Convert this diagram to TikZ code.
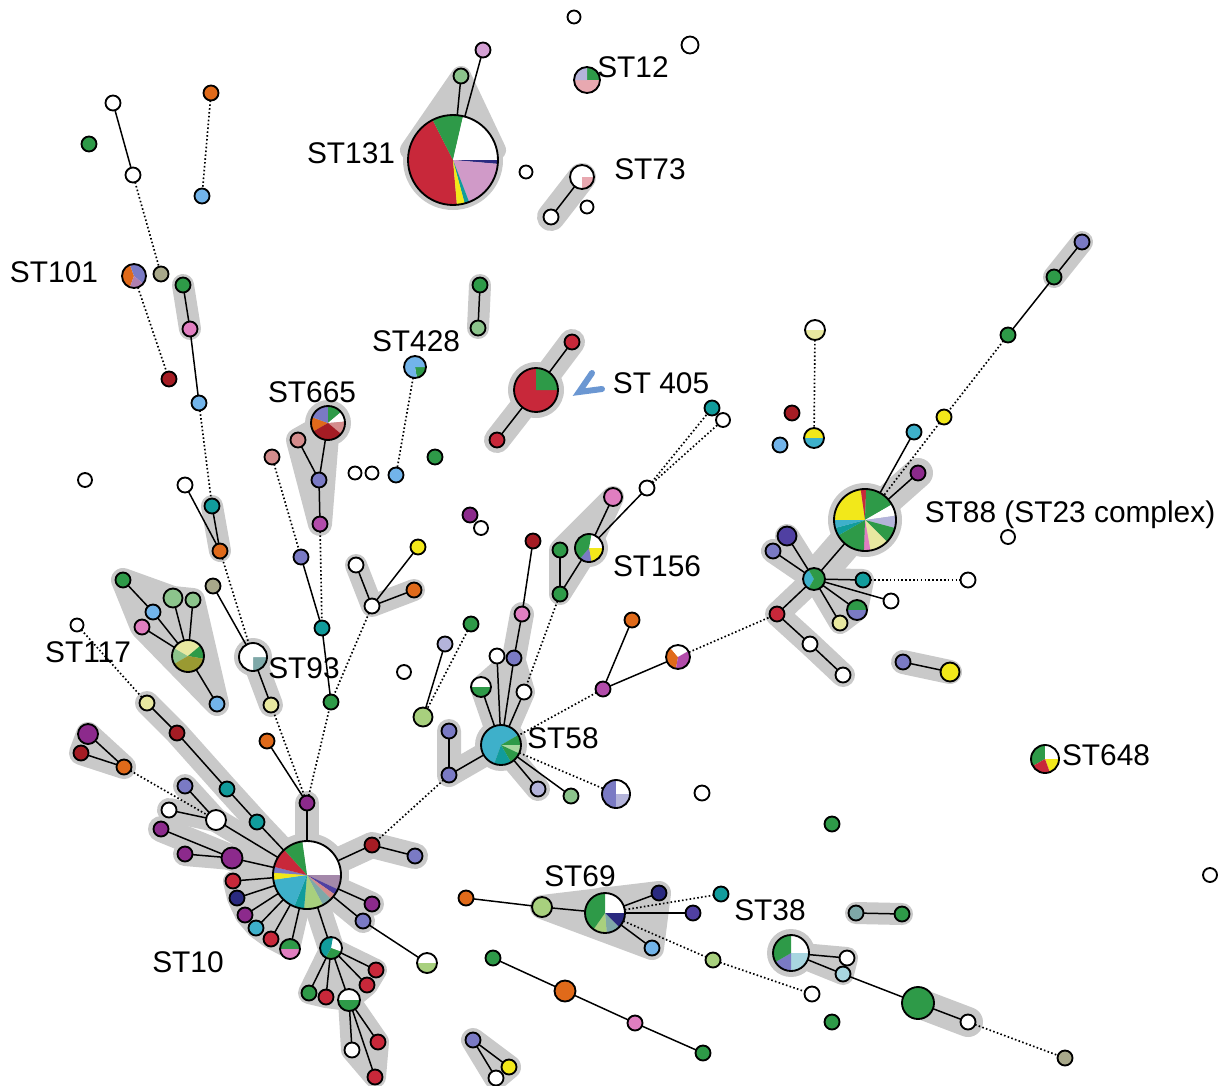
\documentclass[tikz,border=0pt]{standalone}
\usepackage{fontspec}
\setmainfont{Liberation Sans}
\pgfdeclarelayer{bg}
\pgfsetlayers{bg,main}
\definecolor{cRed}{HTML}{C8283A}
\definecolor{cGrn}{HTML}{2E9A48}
\definecolor{cNavy}{HTML}{2A2A80}
\definecolor{cMauve}{HTML}{D09AC8}
\definecolor{cTeal}{HTML}{119C9C}
\definecolor{cYel}{HTML}{F2E81A}
\definecolor{cLav}{HTML}{7A7AC4}
\definecolor{cLBlue}{HTML}{72B4EA}
\definecolor{cOrg}{HTML}{E06A1A}
\definecolor{cDRed}{HTML}{A51C24}
\definecolor{cPur}{HTML}{8C2A8C}
\definecolor{cMag}{HTML}{B24CAA}
\definecolor{cPink}{HTML}{E07EC0}
\definecolor{cLGrn}{HTML}{A8D07E}
\definecolor{cMint}{HTML}{8CC48C}
\definecolor{cLYel}{HTML}{E8E8A0}
\definecolor{cOlive}{HTML}{9A9A32}
\definecolor{cGOl}{HTML}{A8A88A}
\definecolor{cRose}{HTML}{D48C8C}
\definecolor{cTB}{HTML}{3EB0CA}
\definecolor{cGT}{HTML}{7EA8A8}
\definecolor{cLtB}{HTML}{A8D6E0}
\definecolor{cInd}{HTML}{5040A2}
\definecolor{cPinkL}{HTML}{E8A8B0}
\definecolor{cLil}{HTML}{D4A0D4}
\definecolor{cMv2}{HTML}{A488AA}
\definecolor{cLav2}{HTML}{B4B4DA}
\definecolor{cBMauve}{HTML}{B080B0}
\definecolor{cPale}{HTML}{A8D8A0}
\definecolor{haloc}{HTML}{C9C9C9}
\definecolor{cChev}{HTML}{6B97D2}
\newcommand\sn[4]{\node[nd, fill=#4, minimum size=#3*0.02cm] (#1) at (#2) {};}
\newcommand\pn[4]{%
  \foreach \pa/\pb/\pc in {#4}{\fill[fill=\pc] (#2) -- ++(\pa:#3) arc[start angle=\pa, end angle=\pb, radius=#3] -- cycle;}%
  \node[nd, minimum size=#3*0.04cm] (#1) at (#2) {};}
\newcommand\es[2]{\draw[ln] (#1) -- (#2);}
\newcommand\ed[2]{\draw[dl] (#1) -- (#2);}
\begin{document}
\begin{tikzpicture}[x=0.02cm,y=-0.02cm,
  nd/.style={circle, draw=black, line width=1.05pt, inner sep=0pt, outer sep=0pt},
  ln/.style={draw=black, line width=0.85pt},
  dl/.style={draw=black, line width=0.95pt, dash pattern=on 0.9pt off 1.3pt},
  halo/.style={draw=haloc, line width=#1*0.02cm, line cap=round, line join=round},
  lab/.style={font=\fontsize{17}{20}\selectfont, inner sep=0pt, text=black},
  chev/.style={draw=cChev, line width=0.12cm, line cap=round, line join=miter}]
\useasboundingbox (0,0) rectangle (1229,1085);

% ---------- top ----------
\sn{a1}{574,17}{13}{white}
\sn{a2}{690,45}{17}{white}
\sn{lil}{483,50}{15}{cLil}
\sn{lg131}{461,76}{15}{cMint}
\pn{ST131}{453,160}{45}{85/243/cRed,243/283/cGrn,283/360/white,360/365/cNavy,365/429/cMauve,429/435/cTeal,435/445/cYel}
\pn{ST12}{587,80}{13}{270/360/cGrn,0/180/cPinkL,180/270/cLav2}
\sn{w173}{526,172}{13}{white}
\pn{ST73}{582,177}{12}{90/360/white,0/90/cPinkL}
\sn{w217}{551,217}{15}{white}
\sn{w207}{587,207}{13}{white}
\sn{u1}{480,285}{15}{cGrn}
\sn{u2}{478,328}{15}{cMint}

% ---------- top-left ----------
\sn{t1}{113,103}{15}{white}
\sn{t2}{89,144}{15}{cGrn}
\sn{t3}{133,175}{15}{white}
\sn{t4}{211,93}{15}{cOrg}
\sn{t5}{202,196}{15}{cLBlue}
\pn{ST101}{134,276}{12}{110/250/cOrg,250/400/cLav,400/470/cBMauve}
\sn{t6}{161,274}{15}{cGOl}
\sn{t7}{183,285}{15}{cGrn}
\sn{t8}{190,329}{15}{cPink}
\sn{t9}{169,379}{15}{cDRed}
\sn{t10}{199,403}{15}{cLBlue}
\sn{t11}{212,506}{15}{cTeal}
\sn{t12}{85,480}{14}{white}
\sn{t13}{185,485}{15}{white}
\sn{t14}{220,551}{15}{cOrg}
\sn{t15}{213,586}{15}{cGOl}
\pn{ST93}{253,657}{14}{0/90/cGT,90/360/white}
\sn{t16}{271,705}{15}{cLYel}
\pn{ST665}{328,423}{17}{150/200/cOrg,200/270/cLav,270/320/cGrn,320/355/white,355/400/cRose,400/510/cDRed}
\sn{t17}{298,440}{15}{cRose}
\sn{t18}{272,457}{15}{cRose}
\sn{t19}{319,480}{15}{cLav}
\sn{t20}{320,524}{15}{cMag}
\sn{t21}{301,557}{15}{cLav}
\sn{t22}{322,628}{15}{cTeal}
\sn{t23}{331,702}{15}{cGrn}
\sn{t24}{355,473}{13}{white}
\sn{t25}{372,473}{13}{white}
\sn{t26}{396,475}{15}{cLBlue}
\pn{ST428}{415,367}{11}{0/80/cGrn,80/360/cLBlue}
\sn{t27}{356,565}{15}{white}
\sn{t28}{372,606}{15}{white}
\sn{t29}{418,547}{15}{cYel}
\sn{t30}{414,590}{15}{cOrg}
\pn{ST117}{188,656}{16}{150/210/cMint,210/320/cLYel,320/370/cGrn,370/510/cOlive}
\sn{t31}{123,580}{15}{cGrn}
\sn{t32}{153,612}{15}{cLBlue}
\sn{t33}{142,627}{15}{cPink}
\sn{t34}{173,598}{19}{cMint}
\sn{t35}{193,600}{15}{cMint}
\sn{t36}{217,704}{15}{cLBlue}
\sn{t37}{77,625}{13}{white}
\sn{t38}{147,703}{15}{cLYel}

% ---------- middle ----------
\pn{ST405}{536,390}{22}{0/270/cRed,270/360/cGrn}
\sn{t39}{572,342}{15}{cRed}
\sn{t40}{497,440}{15}{cRed}
\sn{t41}{712,408}{15}{cTeal}
\sn{t42}{723,420}{14}{white}
\sn{t43}{792,413}{15}{cDRed}
\sn{t44}{780,445}{15}{cLBlue}
\pn{pLY}{815,330}{10}{180/360/white,0/180/cLYel}
\pn{pYT}{814,438}{10}{180/360/cYel,0/180/cTB}
\sn{t45}{435,457}{15}{cGrn}
\sn{t46}{470,515}{15}{cPur}
\sn{t47}{481,528}{14}{white}
\sn{t48}{533,541}{15}{cDRed}
\pn{ST156}{589,548}{14}{280/360/white,0/80/cYel,80/130/cLav,130/280/cGrn}
\sn{t49}{613,497}{18}{cPink}
\sn{t50}{647,488}{15}{white}
\sn{t51}{560,550}{15}{cGrn}
\sn{t52}{560,594}{15}{cGrn}
\sn{t53}{522,614}{15}{cPink}
\sn{t54}{514,658}{15}{cLav}
\sn{t55}{497,656}{15}{white}
\sn{t56}{524,692}{15}{white}
\pn{pWG}{481,687}{10}{180/360/white,0/180/cGrn}
\sn{t57}{471,624}{15}{cGrn}
\sn{t58}{445,644}{15}{cLav2}
\sn{t59}{404,672}{14}{white}
\sn{t60}{423,717}{19}{cLGrn}
\sn{t61}{632,620}{15}{cOrg}
\sn{t62}{603,689}{15}{cMag}
\pn{pOM}{678,657}{12}{100/230/cOrg,230/330/white,330/460/cMag}
\sn{t63}{777,614}{15}{cRed}
\pn{ST58}{501,745}{20}{110/330/cTB,330/360/cGrn,0/25/cPale,25/60/cGrn,60/110/cTeal}
\sn{t64}{449,731}{15}{cLav}
\sn{t65}{449,775}{15}{cLav}
\sn{t66}{538,789}{15}{cLav2}
\sn{t67}{571,796}{15}{cMint}
\pn{pLV}{616,794}{14}{90/270/cLav,270/360/white,0/90/cLav2}
\sn{t68}{702,793}{15}{white}
\sn{t69}{832,824}{15}{cGrn}

% ---------- ST88 ----------
\pn{ST88}{865,520}{31}{180/262/cYel,262/272/cRed,272/330/cGrn,330/352/white,352/375/cLav2,375/405/cGrn,405/440/cLYel,440/452/cPink,452/510/cGrn,510/525/cTeal,525/540/cTB}
\sn{t70}{1082,242}{15}{cLav}
\sn{t71}{1054,277}{15}{cGrn}
\sn{t72}{1008,335}{15}{cGrn}
\sn{t73}{944,417}{15}{cYel}
\sn{t74}{914,432}{15}{cTB}
\sn{t75}{918,473}{15}{cPur}
\sn{t76}{1008,537}{14}{white}
\pn{hub}{814,579}{11}{120/240/cTB,240/480/cGrn}
\sn{t77}{787,536}{19}{cInd}
\sn{t78}{773,551}{15}{cLav}
\sn{t79}{863,580}{15}{cTeal}
\sn{t80}{968,580}{15}{white}
\sn{t81}{891,601}{15}{white}
\pn{pGL}{857,610}{10}{180/360/cGrn,0/180/cLav}
\sn{t82}{840,623}{15}{cLYel}
\sn{t83}{810,644}{15}{white}
\sn{t84}{843,675}{15}{white}
\sn{t85}{903,662}{15}{cLav}
\sn{t86}{950,672}{19}{cYel}
\pn{ST648}{1045,759}{14}{150/270/cGrn,270/360/white,0/70/cYel,70/150/cRed}
\sn{t87}{1210,875}{14}{white}

% ---------- ST10 ----------
\pn{ST10}{307,875}{34}{262/360/white,0/25/cMv2,25/35/cInd,35/45/cRose,45/62/cGT,62/95/cLGrn,95/112/cTeal,112/172/cTB,172/184/cYel,184/194/cLav,194/228/cRed,228/262/cGrn}
\sn{t88}{307,803}{15}{cPur}
\sn{t89}{267,741}{15}{cOrg}
\sn{t90}{177,733}{15}{cDRed}
\sn{t91}{227,789}{15}{cTeal}
\sn{t92}{257,822}{15}{cTeal}
\sn{t93}{88,734}{20}{cPur}
\sn{t94}{81,753}{15}{cDRed}
\sn{t95}{124,767}{15}{cOrg}
\sn{t96}{185,786}{15}{cLav}
\sn{t97}{169,810}{15}{white}
\sn{t98}{216,820}{20}{white}
\sn{t99}{161,829}{15}{cPur}
\sn{t100}{232,858}{21}{cPur}
\sn{t101}{185,854}{15}{cPur}
\sn{t102}{233,881}{15}{cRed}
\sn{t103}{237,898}{15}{cNavy}
\sn{t104}{245,915}{15}{cPur}
\sn{t105}{256,928}{15}{cTB}
\sn{t106}{271,939}{15}{cRed}
\pn{pGP}{290,949}{10}{180/360/cGrn,0/180/cPink}
\sn{t107}{372,845}{15}{cDRed}
\sn{t108}{415,856}{15}{cLav}
\sn{t109}{372,904}{15}{cPur}
\sn{t110}{363,921}{15}{cLav}
\pn{pWL}{427,963}{10}{180/360/white,0/180/cLGrn}
\pn{pTG}{331,948}{11}{280/380/white,20/120/cGrn,120/280/cTeal}
\sn{t111}{309,993}{15}{cGrn}
\sn{t112}{326,997}{15}{cRed}
\pn{pWG2}{349,1000}{11}{180/360/white,0/180/cGrn}
\sn{t113}{376,970}{15}{cRed}
\sn{t114}{367,985}{15}{cRed}
\sn{t115}{352,1050}{15}{white}
\sn{t116}{378,1042}{15}{cRed}
\sn{t117}{375,1077}{15}{cRed}

% ---------- ST69 / ST38 ----------
\pn{ST69}{605,913}{20}{270/360/white,0/45/cNavy,45/85/cGT,85/125/cLGrn,125/270/cGrn}
\sn{t118}{466,898}{15}{cOrg}
\sn{t119}{542,907}{20}{cLGrn}
\sn{t120}{659,893}{15}{cNavy}
\sn{t121}{721,894}{15}{cTeal}
\sn{t122}{693,913}{15}{cInd}
\sn{t123}{652,948}{15}{cLBlue}
\sn{t124}{713,960}{15}{cLGrn}
\sn{t125}{812,994}{15}{white}
\pn{ST38}{791,953}{18}{270/360/white,0/90/cLtB,90/150/cLav,150/270/cGrn}
\sn{t126}{847,958}{15}{white}
\sn{t127}{843,974}{15}{cLtB}
\sn{t128}{918,1003}{32}{cGrn}
\sn{t129}{968,1022}{15}{white}
\sn{t130}{1065,1058}{15}{cGOl}
\sn{t131}{856,913}{15}{cGT}
\sn{t132}{902,914}{15}{cGrn}
\sn{t133}{493,958}{15}{cGrn}
\sn{t134}{565,991}{21}{cOrg}
\sn{t135}{635,1023}{15}{cPink}
\sn{t136}{703,1053}{15}{cGrn}
\sn{t137}{832,1022}{15}{cGrn}
\sn{t138}{473,1040}{15}{cLav}
\sn{t139}{509,1067}{15}{cYel}
\sn{t140}{496,1078}{15}{white}

% ---------- labels ----------
\node[lab] (lST131) at (351,153) {ST131};
\node[lab] (lST12) at (633,67) {ST12};
\node[lab] (lST73) at (650,169) {ST73};
\node[lab] (lST101) at (54,272) {ST101};
\node[lab] (lST428) at (416,341) {ST428};
\node[lab] (lST665) at (312,392) {ST665};
\node[lab] (lST405) at (661,383) {ST 405};
\node[lab] (lST88) at (1070,515) {ST88 (ST23 complex)};
\node[lab] (lST156) at (657,566) {ST156};
\node[lab] (lST117) at (88,652) {ST117};
\node[lab] (lST93) at (304,668) {ST93};
\node[lab] (lST58) at (563,738) {ST58};
\node[lab] (lST648) at (1106,755) {ST648};
\node[lab] (lST10) at (188,962) {ST10};
\node[lab] (lST69) at (580,876) {ST69};
\node[lab] (lST38) at (770,910) {ST38};
\draw[chev] (592,373) -- (579,392) -- (602,389);

% ---------- connectors ----------
\es{ST131}{lil} \es{ST131}{lg131} \es{ST73}{w217}
\es{u1}{u2}
\es{t1}{t3} \ed{t3}{t6} \ed{t4}{t5}
\es{t7}{t8} \es{t8}{t10} \ed{ST101}{t9}
\ed{t10}{t11} \es{t11}{t14} \es{t13}{t14} \ed{t14}{ST93} \es{t15}{ST93} \es{ST93}{t16}
\es{ST665}{t19} \es{t17}{t19} \es{t19}{t20} \ed{t20}{t22} \ed{t18}{t21} \es{t21}{t22} \es{t22}{t23}
\ed{ST428}{t26}
\es{t28}{t27} \es{t28}{t29} \es{t28}{t30} \ed{t28}{t23}
\es{t31}{t32} \es{t32}{ST117} \es{t33}{ST117} \es{t34}{ST117} \es{t35}{ST117} \es{ST117}{t36}
\ed{t37}{t38}
\es{ST405}{t39} \es{ST405}{t40}
\ed{pLY}{pYT}
\es{ST156}{t49} \es{ST156}{t50} \ed{t50}{t41} \ed{t50}{t42} \es{t51}{t52} \es{ST156}{t52} \ed{t52}{t56}
\es{t48}{t53} \es{t53}{t54} \es{t54}{ST58} \es{t55}{ST58} \es{pWG}{ST58} \es{t56}{ST58}
\ed{t57}{t60} \es{t58}{t60}
\es{t61}{t62} \es{t62}{pOM} \ed{pOM}{t63} \ed{t62}{ST58}
\es{ST58}{t65} \es{t64}{t65} \es{ST58}{t66} \es{ST58}{t67} \ed{ST58}{pLV}
\ed{t65}{t107}
\es{t70}{t71} \es{t71}{t72} \ed{t72}{t73} \ed{t73}{ST88} \es{t74}{ST88} \es{t75}{ST88}
\es{ST88}{hub} \es{hub}{t77} \es{hub}{t78} \es{hub}{t79} \ed{t79}{t80} \es{hub}{t81} \es{hub}{pGL} \es{hub}{t82}
\es{hub}{t63} \es{t63}{t83} \es{t83}{t84}
\es{t85}{t86}
\es{t88}{ST10} \es{t88}{t89} \ed{t88}{t16} \ed{t88}{t23}
\es{t38}{t90} \es{t90}{t91} \es{t91}{t92} \es{t92}{ST10}
\es{t93}{t95} \es{t94}{t95} \ed{t95}{t98} \es{t96}{t98} \es{t97}{t98} \es{t98}{ST10}
\es{t99}{t100} \es{t101}{t100} \es{t100}{ST10}
\es{ST10}{t102} \es{ST10}{t103} \es{ST10}{t104} \es{ST10}{t105} \es{ST10}{t106} \es{ST10}{pGP}
\es{ST10}{t107} \es{t107}{t108} \es{ST10}{t109} \es{ST10}{t110} \es{t110}{pWL}
\es{ST10}{pTG} \es{pTG}{t111} \es{pTG}{t112} \es{pTG}{pWG2} \es{pTG}{t113} \es{pTG}{t114}
\es{pWG2}{t115} \es{pWG2}{t116} \es{pWG2}{t117}
\es{t118}{t119} \es{t119}{ST69} \es{ST69}{t120} \ed{ST69}{t121} \es{ST69}{t122} \es{ST69}{t123}
\ed{ST69}{t124} \ed{t124}{t125}
\es{ST38}{t126} \es{ST38}{t127} \es{t127}{t128} \es{t128}{t129} \ed{t129}{t130}
\es{t131}{t132}
\es{t133}{t134} \es{t134}{t135} \es{t135}{t136}
\es{t138}{t139} \es{t138}{t140}

% ---------- grey halos ----------
\begin{pgfonlayer}{bg}
\fill[haloc] (ST131.center) circle[radius=50];
\filldraw[halo=20, fill=haloc] (lg131.center) -- (410,150) -- (496,150) -- cycle;
\draw[halo=28] (ST73.center) -- (w217.center);
\draw[halo=22] (u1.center) -- (u2.center);
\draw[halo=22] (t7.center) -- (t8.center);
\draw[halo=22] (t11.center) -- (t14.center);
\fill[haloc] (ST405.center) circle[radius=28];
\filldraw[halo=26, fill=haloc] (t39.center) -- (ST405.center) -- (t40.center);
\fill[haloc] (ST665.center) circle[radius=23];
\filldraw[halo=24, fill=haloc] (t17.center) -- (ST665.center) -- (t20.center) -- cycle;
\fill[haloc] (ST117.center) circle[radius=22];
\filldraw[halo=24, fill=haloc] (t31.center) -- (t34.center) -- (t35.center) -- (t36.center) -- (t33.center) -- cycle;
\fill[haloc] (ST93.center) circle[radius=19];
\draw[halo=24] (ST93.center) -- (t16.center);
\draw[halo=22] (t27.center) -- (t28.center) -- (t30.center);
\fill[haloc] (ST156.center) circle[radius=19];
\filldraw[halo=22, fill=haloc] (t49.center) -- (ST156.center) -- (t52.center) -- (t51.center) -- cycle;
\fill[haloc] (ST58.center) circle[radius=26];
\filldraw[halo=22, fill=haloc] (pWG.center) -- (t54.center) -- (t56.center) -- (ST58.center) -- cycle;
\draw[halo=24] (ST58.center) -- (t54.center) -- (t53.center);
\draw[halo=24] (ST58.center) -- (t65.center) -- (t64.center);
\draw[halo=24] (ST58.center) -- (t66.center);
\fill[haloc] (ST88.center) circle[radius=37];
\draw[halo=30] (ST88.center) -- (t75.center);
\draw[halo=34] (ST88.center) -- (hub.center);
\draw[halo=24] (hub.center) -- (t77.center);
\draw[halo=24] (hub.center) -- (t78.center);
\draw[halo=24] (hub.center) -- (t63.center) -- (t83.center) -- (t84.center);
\filldraw[halo=22, fill=haloc] (hub.center) -- (t79.center) -- (pGL.center) -- (t82.center) -- cycle;
\draw[halo=22] (t70.center) -- (t71.center);
\draw[halo=24] (t85.center) -- (t86.center);
\fill[haloc] (ST10.center) circle[radius=42];
\draw[halo=24] (ST10.center) -- (t88.center);
\draw[halo=24] (ST10.center) -- (t92.center) -- (t91.center) -- (t90.center) -- (t38.center);
\draw[halo=24] (ST10.center) -- (t98.center) -- (t96.center);
\draw[halo=24] (t98.center) -- (t97.center);
\draw[halo=26] (ST10.center) -- (t100.center) -- (t99.center);
\draw[halo=24] (t100.center) -- (t101.center);
\filldraw[halo=20, fill=haloc] (ST10.center) -- (t102.center) -- (t103.center) -- (t104.center) -- (t105.center) -- (t106.center) -- (pGP.center) -- cycle;
\draw[halo=26] (ST10.center) -- (t107.center) -- (t108.center);
\draw[halo=24] (ST10.center) -- (t109.center);
\draw[halo=24] (ST10.center) -- (t110.center);
\draw[halo=26] (ST10.center) -- (pTG.center);
\filldraw[halo=22, fill=haloc] (pTG.center) -- (t113.center) -- (t114.center) -- (pWG2.center) -- (t112.center) -- (t111.center) -- cycle;
\filldraw[halo=22, fill=haloc] (pWG2.center) -- (t116.center) -- (t117.center) -- (t115.center) -- cycle;
\filldraw[halo=24, fill=haloc] (t93.center) -- (t95.center) -- (t94.center) -- cycle;
\fill[haloc] (ST69.center) circle[radius=26];
\filldraw[halo=24, fill=haloc] (t119.center) -- (t120.center) -- (t123.center) -- cycle;
\fill[haloc] (ST38.center) circle[radius=24];
\filldraw[halo=22, fill=haloc] (ST38.center) -- (t126.center) -- (t127.center) -- cycle;
\draw[halo=30] (t128.center) -- (t129.center);
\draw[halo=22] (t131.center) -- (t132.center);
\filldraw[halo=24, fill=haloc] (t138.center) -- (t139.center) -- (t140.center) -- cycle;
\end{pgfonlayer}
\end{tikzpicture}
\end{document}
